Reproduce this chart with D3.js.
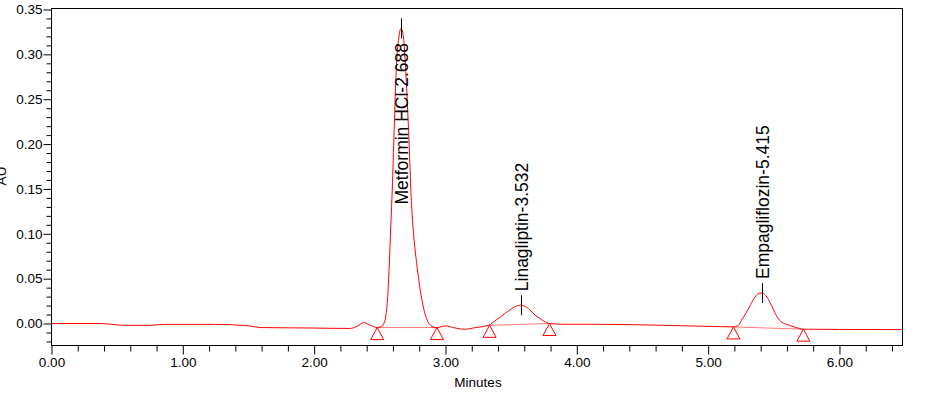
<!DOCTYPE html>
<html>
<head>
<meta charset="utf-8">
<script src="https://cdn.jsdelivr.net/npm/d3@7"></script>
<style>
  body { margin: 0; background: #ffffff; }
  svg { display: block; font-family: "Liberation Sans", Arial, sans-serif; }
</style>
</head>
<body>
<div id="chart"></div>
<script>

// chromatogram trace, [minutes, AU]
var trace = [
  [0.00, 0.0000], [0.37, 0.0000], [0.50, -0.0015], [0.56, -0.0020], [0.75, -0.0020],
  [0.86, -0.0010], [1.24, -0.0010], [1.51, -0.0027], [1.59, -0.0045], [1.97, -0.0050],
  [2.27, -0.0055], [2.33, -0.0030], [2.377, 0.0010], [2.43, -0.0020], [2.48, -0.0045],
  [2.52, -0.0025], [2.531, 0.0000], [2.545, 0.0080], [2.560, 0.0300], [2.572, 0.0650],
  [2.584, 0.1100], [2.595, 0.1500], [2.609, 0.2150], [2.626, 0.2855], [2.644, 0.3180],
  [2.662, 0.3290], [2.681, 0.3180], [2.696, 0.2855], [2.719, 0.2150], [2.740, 0.1370],
  [2.757, 0.1000], [2.780, 0.0680], [2.800, 0.0450], [2.820, 0.0270], [2.840, 0.0130],
  [2.860, 0.0040], [2.885, -0.0020], [2.932, -0.0047], [2.970, -0.0035],
  [3.006, -0.0027], [3.060, -0.0045], [3.145, -0.0064], [3.230, -0.0045], [3.310, -0.0027],
  [3.336, -0.0015], [3.374, 0.0026], [3.420, 0.0075], [3.450, 0.0110], [3.500, 0.0160],
  [3.540, 0.0195], [3.572, 0.0204], [3.610, 0.0190], [3.650, 0.0140], [3.690, 0.0085],
  [3.717, 0.0060], [3.750, 0.0025], [3.792, 0.0000], [3.900, -0.0008], [4.100, -0.0008],
  [4.400, -0.0012], [4.800, -0.0025], [5.100, -0.0035], [5.193, -0.0038], [5.230, -0.0020],
  [5.254, 0.0037], [5.290, 0.0120], [5.314, 0.0185], [5.350, 0.0280], [5.380, 0.0330],
  [5.406, 0.0340], [5.440, 0.0310], [5.482, 0.0204], [5.515, 0.0100], [5.543, 0.0037],
  [5.580, 0.0000], [5.619, -0.0020], [5.670, -0.0045], [5.725, -0.0063], [6.000, -0.0066],
  [6.480, -0.0068]
];

var peakLabels = ["Metformin HCl-2.688", "Linagliptin-3.532", "Empagliflozin-5.415"];
var peakTimes = [2.662, 3.577, 5.408];
var peakHeights = [0.3290, 0.0204, 0.0340];
var peakStarts = [[2.480, -0.0045], [3.336, -0.0020], [5.193, -0.0038]];
var peakEnds = [[2.935, -0.0045], [3.792, 0.0000], [5.725, -0.0063]];

var yMajorTicks = [0.00, 0.05, 0.10, 0.15, 0.20, 0.25, 0.30, 0.35];
var xMajorTicks = [0, 1, 2, 3, 4, 5, 6];

var width = 931, height = 393;

var svg = d3.select("#chart").append("svg")
  .attr("width", width)
  .attr("height", height);

var x = d3.scaleLinear().domain([0, 6.48]).range([51.5, 902.5]);
var y = d3.scaleLinear().domain([-0.0245, 0.3511]).range([345.5, 8.5]);

svg.append("clipPath")
  .attr("id", "plot-clip")
  .append("rect")
  .attr("x", x.range()[0])
  .attr("y", y.range()[1])
  .attr("width", x.range()[1] - x.range()[0])
  .attr("height", y.range()[0] - y.range()[1]);

// y axis
var yMinor = d3.range(-2, 36).filter(function(i) { return i % 5 != 0; })
  .map(function(i) { return i / 100; });

svg.append("g")
  .attr("transform", "translate(" + x.range()[0] + ",0)")
  .call(d3.axisLeft(y).tickValues(yMinor).tickSize(5).tickFormat(""))
  .call(function(g) { g.select(".domain").remove(); });

svg.append("g")
  .attr("class", "y-axis")
  .attr("transform", "translate(" + x.range()[0] + ",0)")
  .call(d3.axisLeft(y).tickValues(yMajorTicks).tickSize(8).tickPadding(1)
    .tickFormat(d3.format(".2f")))
  .call(function(g) { g.select(".domain").remove(); });

// x axis
var xMinor = d3.range(0, 33).filter(function(i) { return i % 5 != 0; })
  .map(function(i) { return i / 5; });

svg.append("g")
  .attr("transform", "translate(0," + y.range()[0] + ")")
  .call(d3.axisBottom(x).tickValues(xMinor).tickSize(6).tickFormat(""))
  .call(function(g) { g.select(".domain").remove(); });

svg.append("g")
  .attr("class", "x-axis")
  .attr("transform", "translate(0," + y.range()[0] + ")")
  .call(d3.axisBottom(x).tickValues(xMajorTicks).tickSize(9).tickPadding(3)
    .tickFormat(d3.format(".2f")))
  .call(function(g) { g.select(".domain").remove(); });

svg.selectAll(".tick text")
  .attr("font-size", 13.5)
  .attr("font-family", "Liberation Sans, Arial, sans-serif")
  .attr("fill", "#000");

svg.selectAll(".tick line").attr("stroke", "#000");

// frame
svg.append("rect")
  .attr("x", x.range()[0])
  .attr("y", y.range()[1])
  .attr("width", x.range()[1] - x.range()[0])
  .attr("height", y.range()[0] - y.range()[1])
  .attr("fill", "none")
  .attr("stroke", "#000")
  .attr("stroke-width", 1);

// axis titles
svg.append("text")
  .attr("x", (x.range()[0] + x.range()[1]) / 2 + 1)
  .attr("y", 387)
  .attr("text-anchor", "middle")
  .attr("font-size", 13.5)
  .text("Minutes");

svg.append("text")
  .attr("transform", "translate(6,176) rotate(-90)")
  .attr("text-anchor", "middle")
  .attr("font-size", 13.5)
  .text("AU");

var plot = svg.append("g").attr("clip-path", "url(#plot-clip)");

// integration baselines
plot.selectAll(".baseline")
  .data(peakStarts)
  .enter().append("line")
  .attr("class", "baseline")
  .attr("x1", function(d) { return x(d[0]); })
  .attr("y1", function(d) { return y(d[1]); })
  .attr("x2", function(d, i) { return x(peakEnds[i][0]); })
  .attr("y2", function(d, i) { return y(peakEnds[i][1]); })
  .attr("stroke", "#ff7a7a")
  .attr("stroke-width", 1);

var line = d3.line()
  .x(function(d) { return x(d[0]); })
  .y(function(d) { return y(d[1]); })
  .curve(d3.curveMonotoneX);

plot.append("path")
  .datum(trace)
  .attr("d", line)
  .attr("fill", "none")
  .attr("stroke", "#ff0000")
  .attr("stroke-width", 1);

// start / end markers
var marks = peakStarts.concat(peakEnds);
plot.selectAll(".mark")
  .data(marks)
  .enter().append("path")
  .attr("class", "mark")
  .attr("d", function(d) {
    var px = x(d[0]), py = y(d[1]);
    return "M" + px + "," + py + "L" + (px + 6.5) + "," + (py + 12) +
      "L" + (px - 6.5) + "," + (py + 12) + "Z";
  })
  .attr("fill", "none")
  .attr("stroke", "#ff0000")
  .attr("stroke-width", 1);

// peak ticks and labels
var peakG = svg.append("g").attr("id", "peaks");

peakTimes.forEach(function(t, i) {
  var px = Math.round(x(t)) + 0.5;
  var py = y(peakHeights[i]);
  peakG.append("line")
    .attr("x1", px).attr("x2", px)
    .attr("y1", Math.max(py - 10, 14)).attr("y2", py + 10)
    .attr("stroke", "#000")
    .attr("stroke-width", 1);

  var label = peakG.append("text")
    .attr("font-size", 17.5)
    .attr("fill", "#000")
    .text(peakLabels[i]);
  var len = label.node().getComputedTextLength();
  var start = py - 14;
  if (start - len < 40) {
    label.attr("text-anchor", "end")
      .attr("transform", "translate(" + (px + 6) + ",43) rotate(-90)");
  } else {
    label.attr("transform", "translate(" + (px + 6) + "," + start + ") rotate(-90)");
  }
});

</script>
</body>
</html>
